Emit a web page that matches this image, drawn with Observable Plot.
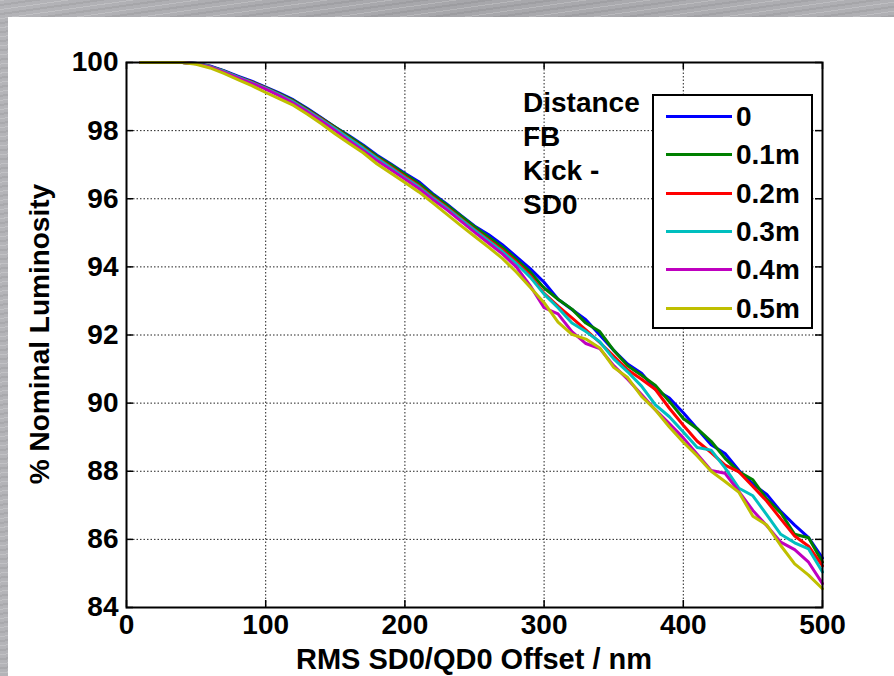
<!DOCTYPE html>
<html>
<head>
<meta charset="utf-8">
<script src="https://cdn.jsdelivr.net/npm/d3@7"></script>
<script src="https://cdn.jsdelivr.net/npm/@observablehq/plot@0.6"></script>
<style>
  html, body { margin:0; padding:0; }
  body {
    width:894px; height:676px; position:relative; overflow:hidden;
    background-color:#acacb0;
    background-image:
      repeating-linear-gradient(172deg, rgba(255,255,255,0.18) 0px, rgba(255,255,255,0.18) 1px, rgba(0,0,0,0) 1px, rgba(0,0,0,0) 4px, rgba(0,0,0,0.06) 4px, rgba(0,0,0,0.06) 6px, rgba(0,0,0,0) 6px, rgba(0,0,0,0) 9px),
      linear-gradient(90deg, #b4b4b8, #a6a6aa 50%, #b0b0b4);
    font-family: "Liberation Sans", Arial, Helvetica, sans-serif;
  }
  #panel { position:absolute; left:8px; top:17px; width:886px; height:659px; background:#fff; }
  #chart { position:absolute; left:0; top:0; }
  .lbl { position:absolute; font-weight:bold; color:#000; font-size:28px; white-space:nowrap; }
  #xtitle { left:126px; width:696px; text-align:center; top:643px; line-height:32px; font-size:29px; }
  #ytitle { left:40px; top:334px; transform:translate(-50%,-50%) rotate(-90deg); line-height:32px; }
  #note { left:523px; top:86px; font-size:28px; line-height:34px; }
  #legend { position:absolute; left:652px; top:94px; width:157px; height:231px; border:2px solid #000; background:#fff; }
  .row { position:absolute; left:10px; height:38px; width:150px; }
  .row .sw { position:absolute; left:2px; top:17px; width:66px; height:3px; }
  .row .tx { position:absolute; left:72px; top:0; font-weight:bold; font-size:28px; line-height:38px; }
</style>
</head>
<body>
<div id="panel"></div>
<div id="chart"></div>
<div class="lbl" id="xtitle">RMS SD0/QD0 Offset / nm</div>
<div class="lbl" id="ytitle">% Nominal Luminosity</div>
<div class="lbl" id="note">Distance<br>FB<br>Kick -<br>SD0</div>
<div id="legend"></div>
<script>
// ---- data ----
const xValues = [10,20,30,40,50,60,70,80,90,100,110,120,130,140,150,160,170,180,190,200,
  210,220,230,240,250,260,270,280,290,300,310,320,330,340,350,360,370,380,390,400,
  410,420,430,440,450,460,470,480,490,500];

const series0 = [100,100,100,100,99.98,99.9,99.76,99.6,99.45,99.28,99.1,98.9,98.65,98.38,98.1,97.85,97.58,97.28,97.02,96.75,
  96.5,96.15,95.85,95.52,95.2,94.95,94.65,94.3,93.95,93.55,93.05,92.75,92.45,92.0,91.55,91.15,90.88,90.4,90.15,89.72,
  89.25,88.78,88.52,88.02,87.62,87.32,86.82,86.42,86.05,85.45];
const series01 = [100,100,100,100,99.97,99.88,99.75,99.58,99.43,99.26,99.08,98.88,98.63,98.36,98.1,97.83,97.55,97.25,97.0,96.72,
  96.45,96.12,95.82,95.5,95.18,94.88,94.58,94.22,93.85,93.38,93.05,92.76,92.35,92.1,91.55,91.1,90.82,90.52,90.05,89.55,
  89.25,88.88,88.38,87.98,87.75,87.18,86.78,86.15,86.05,85.33];
const series02 = [100,100,100,100,99.97,99.88,99.74,99.57,99.42,99.25,99.06,98.85,98.6,98.34,98.06,97.78,97.5,97.2,96.93,96.65,
  96.38,96.05,95.75,95.42,95.1,94.8,94.5,94.15,93.75,93.22,92.85,92.5,92.15,91.78,91.38,90.98,90.7,90.4,89.85,89.35,
  88.88,88.55,88.18,87.98,87.55,87.12,86.6,86.1,85.8,85.22];
const series03 = [100,100,100,100,99.97,99.88,99.74,99.57,99.41,99.24,99.05,98.84,98.58,98.32,98.05,97.76,97.48,97.18,96.9,96.62,
  96.35,96.02,95.72,95.4,95.08,94.76,94.45,94.1,93.7,93.2,92.8,92.35,92.1,91.8,91.3,90.92,90.5,89.95,89.6,89.15,
  88.7,88.62,88.1,87.5,87.28,86.72,86.15,85.9,85.72,85.04];
const series04 = [100,100,100,100,99.96,99.87,99.72,99.55,99.39,99.22,99.02,98.8,98.55,98.28,98.0,97.7,97.42,97.12,96.85,96.58,
  96.3,95.98,95.68,95.35,95.02,94.7,94.38,94.0,93.45,92.8,92.62,92.1,91.75,91.6,91.1,90.7,90.25,89.8,89.4,88.98,
  88.5,88.02,87.94,87.4,86.85,86.4,85.92,85.7,85.33,84.7];
const series05 = [100,100,100,100,99.95,99.84,99.68,99.5,99.32,99.12,98.93,98.74,98.48,98.2,97.9,97.62,97.35,97.02,96.75,96.48,
  96.2,95.88,95.55,95.22,94.9,94.58,94.25,93.85,93.4,92.95,92.38,92.02,91.88,91.62,91.05,90.75,90.2,89.8,89.3,88.85,
  88.45,88.0,87.7,87.38,86.68,86.42,85.82,85.28,84.95,84.55];

const seriesLabels = ["0","0.1m","0.2m","0.3m","0.4m","0.5m"];
const seriesColors = ["#0000ff","#008000","#ff0000","#00bfbf","#bf00bf","#bfbf00"];
const seriesValues = [series0, series01, series02, series03, series04, series05];

const xTicks = [0,100,200,300,400,500];
const yTicks = [84,86,88,90,92,94,96,98,100];

// ---- chart ----
const W = 894, H = 676, mL = 126, mR = 72, mT = 62, mB = 69;
const pw = W - mL - mR, ph = H - mT - mB;

const rows = [];
seriesValues.forEach((vals, i) => vals.forEach((v, j) => rows.push({series: seriesLabels[i], x: xValues[j], y: v})));

const fontFam = '"Liberation Sans", Arial, Helvetica, sans-serif';
const grid = {stroke:"#222", strokeOpacity:1, strokeWidth:1, strokeDasharray:"1.5,2"};

const chart = Plot.plot({
  width: W, height: H,
  marginLeft: mL, marginRight: mR, marginTop: mT, marginBottom: mB,
  style: {background:"transparent", fontFamily: fontFam, color:"#000", overflow:"visible"},
  x: {domain:[0,500]},
  y: {domain:[84,100]},
  color: {domain: seriesLabels, range: seriesColors},
  marks: [
    Plot.gridX(xTicks, grid),
    Plot.gridY(yTicks, grid),
    Plot.tickX(xTicks, {x: d => d, insetTop: ph - 7, stroke:"#000", strokeWidth:1.5}),
    Plot.tickX(xTicks, {x: d => d, insetBottom: ph - 7, stroke:"#000", strokeWidth:1.5}),
    Plot.tickY(yTicks, {y: d => d, insetRight: pw - 7, stroke:"#000", strokeWidth:1.5}),
    Plot.tickY(yTicks, {y: d => d, insetLeft: pw - 7, stroke:"#000", strokeWidth:1.5}),
    ...seriesLabels.map(s => Plot.line(rows.filter(r => r.series === s), {x:"x", y:"y", stroke:"series", strokeWidth:3, strokeLinejoin:"round"})),
    Plot.frame({stroke:"#000", strokeWidth:2}),
    Plot.axisX(xTicks, {tickSize:0, tickPadding:7, fontSize:28, fontWeight:"bold", label:null}),
    Plot.axisY(yTicks, {tickSize:0, tickPadding:8, fontSize:28, fontWeight:"bold", label:null})
  ]
});
document.getElementById("chart").appendChild(chart);

// legend
const leg = document.getElementById("legend");
seriesLabels.forEach((s, i) => {
  const r = document.createElement("div");
  r.className = "row";
  r.style.top = (2 + i * 38.3) + "px";
  r.innerHTML = `<div class="sw" style="background:${seriesColors[i]}"></div><div class="tx">${s}</div>`;
  leg.appendChild(r);
});
</script>
</body>
</html>
